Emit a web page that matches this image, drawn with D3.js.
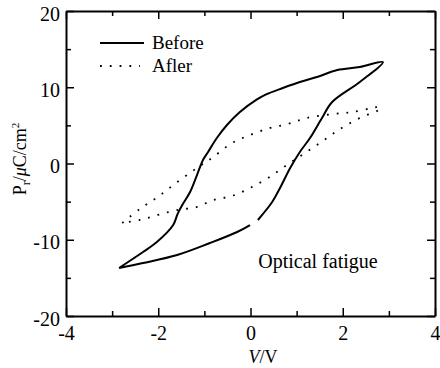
<!DOCTYPE html>
<head lang="en">
    <title>Optical fatigue hysteresis</title>
    <script src="https://d3js.org/d3.v7.min.js" charset="utf-8"></script>
    <style>
        body{
            margin: 0;
            background: #fff;
        }
    </style>
</head>
<body>
    <div class="chart"></div>
    <script>

        // "Before" loop, V (volts) and Pr (uC/cm2)
        var beforeV = [-2.85, -2.33, -2.03, -1.68, -1.58, -1.48, -1.31, -1.16, -1.03, -0.92, -0.73, -0.51, -0.23, 0.14, 0.35, 0.70, 1.07, 1.44, 1.88, 2.37, 2.87,
                       2.37, 1.77, 1.55, 1.29, 1.07, 0.86, 0.64, 0.47, 0.16, null, -0.01, -0.29, -0.88, -1.59, -2.33, -2.85];
        var beforeP = [-13.7, -11.61, -10.30, -8.1, -6.6, -5.44, -3.74, -1.51, 0.46, 1.51, 3.34, 5.05, 6.75, 8.4, 9.1, 9.9, 10.69, 11.34, 12.26, 12.66, 13.31,
                       10.69, 8.07, 5.97, 3.34, 1.51, -0.59, -3.21, -5.05, -7.41, null, -8.07, -8.98, -10.43, -12.0, -13.05, -13.7];

        // "Afler" loop (label spelled as in the original)
        var afterV = [-2.78, -2.40, -2.01, -1.59, -1.16, -0.81, -0.40, -0.01, 0.42, 0.81, 1.22, 1.79, 2.22, 2.63, 2.81,
                      2.81, 2.37, 1.94, 1.57, 1.18, 0.79, 0.38, -0.01, -0.40, -0.81, -1.16, -1.59, -2.01, -2.40, -2.78];
        var afterP = [-7.80, -5.97, -4.39, -2.43, -0.59, 0.85, 2.69, 3.74, 4.66, 5.18, 5.97, 6.49, 6.75, 7.28, 7.41,
                      7.15, 5.97, 4.52, 2.95, 1.38, -0.2, -1.9, -3.21, -4.26, -4.79, -5.7, -6.1, -6.75, -7.41, -7.80];

        var xTicks = [-4, -2, 0, 2, 4];
        var xMinor = [-3, -1, 1, 3];
        var yTicks = [-20, -10, 0, 10, 20];
        var yMinor = [-15, -5, 5, 15];
        var legendNames = ["Before", "Afler"];

        var serif = "Liberation Serif, DejaVu Serif, serif";

        var width = 440;
        var height = 368;
        var margin = {top: 11, right: 5, bottom: 52, left: 66};

        var svg = d3.select("div.chart")
            .append("svg")
            .attr("width", width)
            .attr("height", height)
            .style("font-family", serif);

        var x = d3.scaleLinear()
            .domain([-4, 4])
            .range([margin.left, width - margin.right]);

        var y = d3.scaleLinear()
            .domain([-20, 20])
            .range([height - margin.bottom, margin.top]);

        function zipUp(vs, ps) {
            return vs.map(function(v, i) { return {v: v, p: ps[i]}; });
        }

        var line = d3.line()
            .defined(function(d) { return d.v !== null; })
            .x(function(d) { return x(d.v); })
            .y(function(d) { return y(d.p); })
            .curve(d3.curveCatmullRom.alpha(0.5));

        // axes, ticks point inward
        function drawAxis(axis, tx, ty, minor, ticks, labelShift) {
            var g = svg.append("g")
                .attr("transform", "translate(" + tx + "," + ty + ")")
                .call(axis.tickValues(ticks).tickSize(-8).tickSizeOuter(0).tickPadding(8)
                    .tickFormat(function(d) { return String(d); }));
            g.attr("font-family", null).attr("font-size", null)
                .style("font-family", serif).style("font-size", "20px");
            g.select(".domain").attr("stroke-width", 2);
            g.selectAll(".tick line").attr("stroke-width", 1.5);
            if (labelShift) labelShift(g.selectAll(".tick text"));
            else g.selectAll(".tick text").remove();
            svg.append("g")
                .attr("transform", "translate(" + tx + "," + ty + ")")
                .call(axis.tickValues(minor).tickSize(-5).tickSizeOuter(0))
                .call(function(s) {
                    s.select(".domain").remove();
                    s.selectAll("text").remove();
                    s.selectAll(".tick line").attr("stroke-width", 1.5);
                });
        }

        drawAxis(d3.axisBottom(x), 0, y(-20), xMinor, xTicks, function(t) {
            t.attr("dy", null).attr("y", 24);
        });
        drawAxis(d3.axisTop(x), 0, y(20), xMinor, xTicks, null);
        drawAxis(d3.axisLeft(y), x(-4), 0, yMinor, yTicks, function(t) {
            t.attr("dy", "0.45em").attr("x", -6);
        });
        drawAxis(d3.axisRight(y), x(4), 0, yMinor, yTicks, null);

        // curves
        svg.append("path")
            .datum(zipUp(beforeV, beforeP))
            .attr("d", line)
            .attr("fill", "none")
            .attr("stroke", "#000")
            .attr("stroke-width", 2);

        svg.append("path")
            .datum(zipUp(afterV, afterP))
            .attr("d", line)
            .attr("fill", "none")
            .attr("stroke", "#000")
            .attr("stroke-width", 1.8)
            .attr("stroke-dasharray", "1.8,8");

        // legend
        var legend = svg.append("g").attr("class", "legend");
        legendNames.forEach(function(name, i) {
            var ly = 43 + i * 23;
            legend.append("line")
                .attr("x1", 100).attr("x2", i === 0 ? 144 : 140)
                .attr("y1", ly).attr("y2", ly)
                .attr("stroke", "#000")
                .attr("stroke-width", i === 0 ? 2 : 1.8)
                .attr("stroke-dasharray", i === 0 ? null : "1.8,8");
            legend.append("text")
                .attr("x", 152)
                .attr("y", ly + 6)
                .style("font-size", "19px")
                .text(name);
        });

        svg.append("text")
            .attr("x", 318)
            .attr("y", 268)
            .attr("text-anchor", "middle")
            .style("font-size", "20px")
            .text("Optical fatigue");

        // axis titles
        var xt = svg.append("text")
            .attr("x", 263)
            .attr("y", 363)
            .attr("text-anchor", "middle")
            .style("font-size", "18px");
        xt.append("tspan").style("font-style", "italic").text("V");
        xt.append("tspan").text("/V");

        var yt = svg.append("text")
            .attr("transform", "translate(26,159) rotate(-90)")
            .attr("text-anchor", "middle")
            .style("font-size", "18px");
        yt.append("tspan").text("P");
        yt.append("tspan").attr("dy", 4).style("font-size", "12px").text("r");
        yt.append("tspan").attr("dy", -4).text("/");
        yt.append("tspan").style("font-style", "italic").text("\u03bc");
        yt.append("tspan").text("C/cm");
        yt.append("tspan").attr("dy", -7).style("font-size", "11px").text("2");

    </script>
</body>
